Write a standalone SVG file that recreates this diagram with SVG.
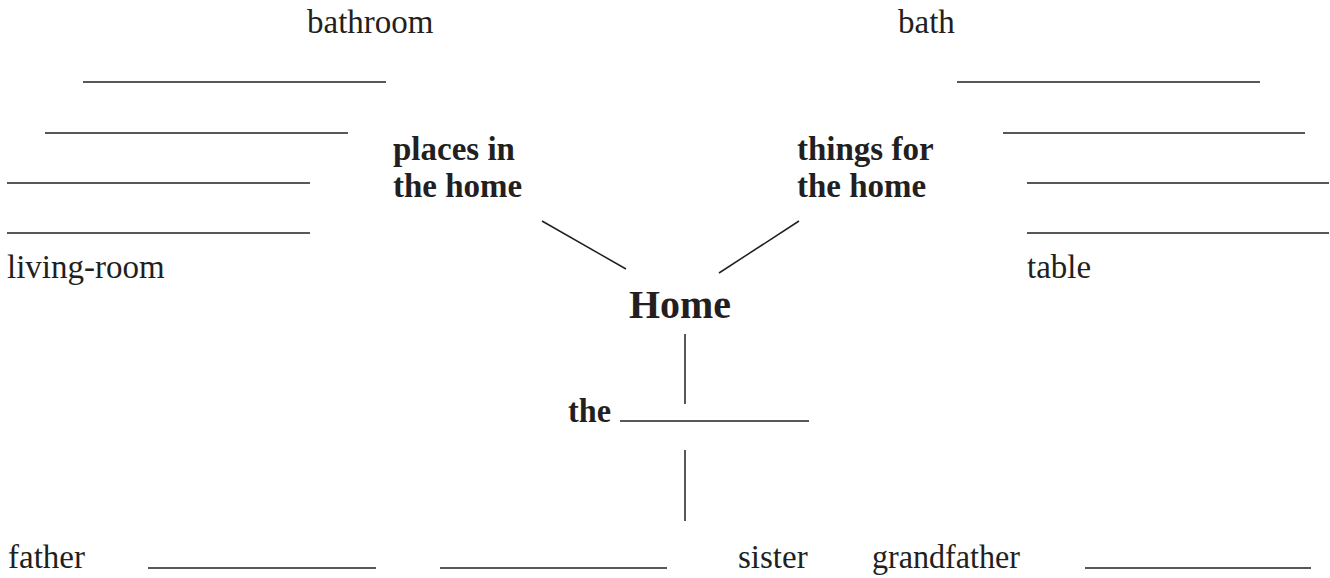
<svg xmlns="http://www.w3.org/2000/svg" width="1330" height="578" viewBox="0 0 1330 578">
<style>
.t{font-family:"Liberation Serif","Times New Roman",serif;font-size:33px;fill:#231f20}
.b{font-family:"Liberation Serif","Times New Roman",serif;font-size:33px;font-weight:bold;fill:#231f20}
.l{stroke:#231f20;stroke-width:1.5;fill:none}
</style>
<rect width="1330" height="578" fill="#fff"/>
<g id="center">
<text class="b" x="629" y="318" style="font-size:41px" textLength="102" lengthAdjust="spacingAndGlyphs">Home</text>
</g>
<g id="places">
<text class="b" x="393" y="160">places in</text>
<text class="b" x="393" y="197">the home</text>
</g>
<g id="things">
<text class="b" x="797" y="160">things for</text>
<text class="b" x="797" y="197">the home</text>
</g>
<g id="family">
<text class="b" x="568" y="422" textLength="43" lengthAdjust="spacingAndGlyphs">the</text>
<line class="l" x1="620" y1="421" x2="809" y2="421"/>
</g>
<g id="places-list">
<text class="t" x="307" y="33">bathroom</text>
<line class="l" x1="83" y1="82" x2="386" y2="82"/>
<line class="l" x1="45" y1="133" x2="348" y2="133"/>
<line class="l" x1="7" y1="183" x2="310" y2="183"/>
<line class="l" x1="7" y1="233" x2="310" y2="233"/>
<text class="t" x="7" y="278">living-room</text>
</g>
<g id="things-list">
<text class="t" x="898" y="33">bath</text>
<line class="l" x1="957" y1="82" x2="1260" y2="82"/>
<line class="l" x1="1003" y1="133" x2="1305" y2="133"/>
<line class="l" x1="1027" y1="183" x2="1329" y2="183"/>
<line class="l" x1="1027" y1="233" x2="1329" y2="233"/>
<text class="t" x="1027" y="278">table</text>
</g>
<g id="family-list">
<text class="t" x="8" y="568">father</text>
<line class="l" x1="148" y1="568" x2="376" y2="568"/>
<line class="l" x1="440" y1="568" x2="667" y2="568"/>
<text class="t" x="738" y="568">sister</text>
<text class="t" x="872" y="568" textLength="148" lengthAdjust="spacingAndGlyphs">grandfather</text>
<line class="l" x1="1085" y1="568" x2="1311" y2="568"/>
</g>
<g id="connectors">
<line class="l" x1="542" y1="221" x2="626" y2="269"/>
<line class="l" x1="799" y1="221" x2="719" y2="273"/>
<line class="l" x1="685" y1="334" x2="685" y2="404"/>
<line class="l" x1="685" y1="450" x2="685" y2="521"/>
</g>
</svg>
